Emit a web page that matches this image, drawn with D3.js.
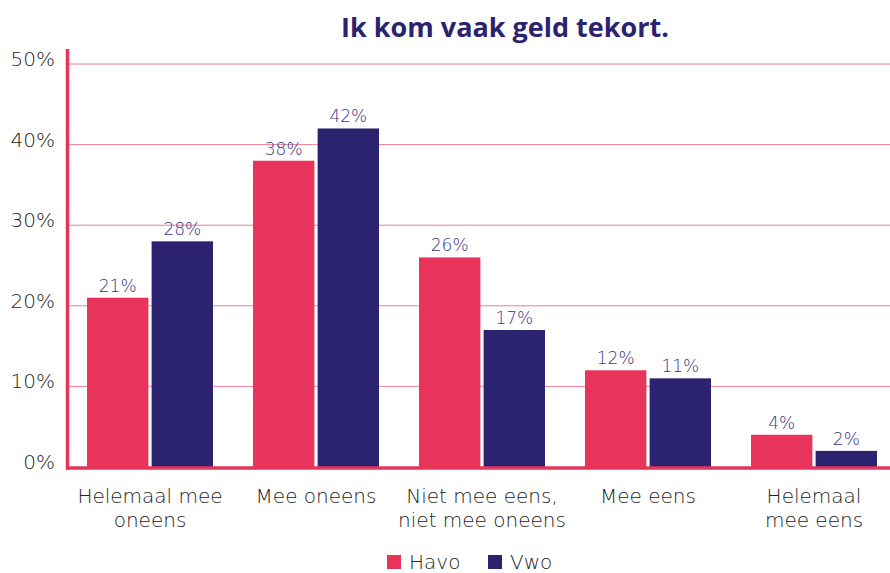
<html>
<head>
<meta charset="utf-8">
<style>
body { margin:0; background:#ffffff; }
svg text { font-family:"DejaVu Sans", sans-serif; font-weight:200; }
</style>
<script src="https://cdn.jsdelivr.net/npm/d3@7"></script>
</head>
<body>
<svg id="chart" width="890" height="573"></svg>
<script>
// data
var categories = [["Helemaal mee", "oneens"], ["Mee oneens"], ["Niet mee eens,", "niet mee oneens"], ["Mee eens"], ["Helemaal", "mee eens"]];
var seriesNames = ["Havo", "Vwo"];
var havo = [21, 38, 26, 12, 4];
var vwo = [28, 42, 17, 11, 2];
var yTicks = [0, 10, 20, 30, 40, 50];
var colors = {Havo: "#e8345a", Vwo: "#2b2370"};

var svg = d3.select("#chart");

var x0 = d3.scaleBand().domain(d3.range(categories.length)).range([67, 897]).paddingInner(0).paddingOuter(0);
var x1 = d3.scaleBand().domain(seriesNames).range([20, 146]).paddingInner(0.05);
var y = d3.scaleLinear().domain([0, 50]).range([467, 64]);

// gridlines
svg.append("g").selectAll("line").data(yTicks.filter(function(d){ return d > 0; })).enter().append("line")
	.attr("x1", 67).attr("x2", 890)
	.attr("y1", function(d){ return y(d); }).attr("y2", function(d){ return y(d); })
	.attr("stroke", "#ee7d93").attr("stroke-width", 1);

// y labels
svg.append("g").selectAll("text").data(yTicks).enter().append("text")
	.attr("x", 55).attr("y", function(d){ return y(d) + 2; })
	.attr("text-anchor", "end").attr("font-size", 20).attr("fill", "#222222")
	.text(function(d){ return d + "%"; });

// bars
var rows = categories.map(function(c, i){ return {i: i, values: [{k: "Havo", v: havo[i]}, {k: "Vwo", v: vwo[i]}]}; });
var groups = svg.append("g").selectAll("g").data(rows).enter().append("g")
	.attr("transform", function(d){ return "translate(" + x0(d.i) + ",0)"; });

groups.selectAll("rect").data(function(d){ return d.values; }).enter().append("rect")
	.attr("x", function(d){ return x1(d.k); })
	.attr("width", x1.bandwidth())
	.attr("y", function(d){ return y(d.v); })
	.attr("height", function(d){ return y(0) - y(d.v); })
	.attr("fill", function(d){ return colors[d.k]; });

groups.selectAll("text.val").data(function(d){ return d.values; }).enter().append("text")
	.attr("class", "val")
	.attr("x", function(d){ return x1(d.k) + x1.bandwidth() / 2; })
	.attr("y", function(d){ return y(d.v) - 6; })
	.attr("text-anchor", "middle").attr("font-size", 17).attr("fill", "#3d3283")
	.text(function(d){ return d.v + "%"; });

// axes lines
svg.append("line").attr("x1", 67.5).attr("x2", 67.5).attr("y1", 49).attr("y2", 470)
	.attr("stroke", "#e8345a").attr("stroke-width", 3.5);
svg.append("line").attr("x1", 66).attr("x2", 890).attr("y1", 468).attr("y2", 468)
	.attr("stroke", "#e8345a").attr("stroke-width", 3.5);

// x labels
var xl = svg.append("g").selectAll("text").data(categories).enter().append("text")
	.attr("x", function(d, i){ return x0(i) + x0.bandwidth() / 2; })
	.attr("y", 503)
	.attr("text-anchor", "middle").attr("font-size", 20).attr("fill", "#222222");
xl.selectAll("tspan").data(function(d){ return d; }).enter().append("tspan")
	.attr("x", function(){ return d3.select(this.parentNode).attr("x"); })
	.attr("dy", function(d, i){ return i === 0 ? 0 : 24; })
	.text(function(d){ return d; });

// title
svg.append("text").attr("x", 505).attr("y", 37).attr("text-anchor", "middle")
	.attr("font-size", 27).style("font-family", "'Open Sans', sans-serif").style("font-weight", "bold").attr("fill", "#2b2370")
	.text("Ik kom vaak geld tekort.");

// legend
var legX = [387, 488];
var leg = svg.append("g").selectAll("g").data(seriesNames).enter().append("g")
	.attr("transform", function(d, i){ return "translate(" + legX[i] + ",555)"; });
leg.append("rect").attr("width", 14).attr("height", 14).attr("fill", function(d){ return colors[d]; });
leg.append("text").attr("x", 22).attr("y", 14).attr("font-size", 20).attr("fill", "#222222").text(function(d){ return d; });
</script>
</body>
</html>
